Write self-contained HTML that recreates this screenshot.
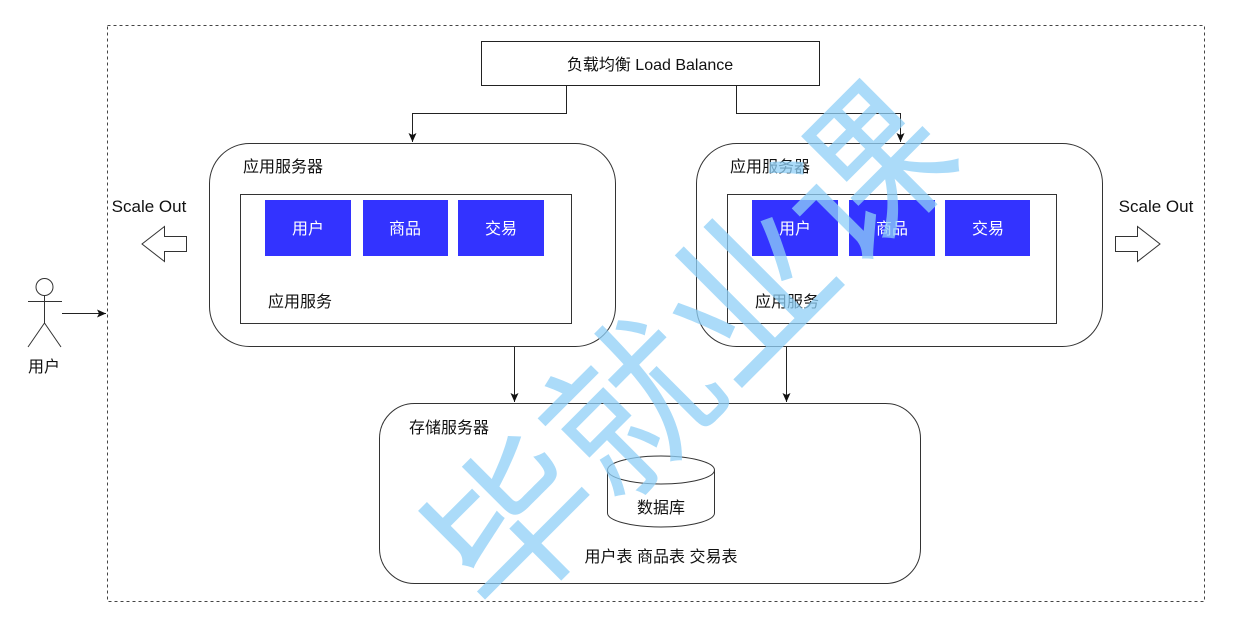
<!DOCTYPE html>
<html><head><meta charset="utf-8"><style>
html,body{margin:0;padding:0;background:#fff;width:1234px;height:624px;overflow:hidden}
text{font-family:"Liberation Sans","Noto Sans CJK SC",sans-serif;font-size:16px;fill:#111}
.w{fill:#fff}
</style></head><body>
<svg width="1234" height="624" viewBox="0 0 1234 624" xmlns="http://www.w3.org/2000/svg">
<defs><marker id="a" markerWidth="10" markerHeight="10" refX="9" refY="5" orient="auto" markerUnits="userSpaceOnUse"><path d="M0,1 L9,5 L0,9 L2,5 Z" fill="#111"/></marker></defs>
<rect x="107.5" y="25.5" width="1097" height="576" fill="none" stroke="#444" stroke-dasharray="3,3"/>
<rect x="481.5" y="41.5" width="338" height="44" fill="#fff" stroke="#222"/>
<text x="650" y="70" text-anchor="middle">负载均衡 Load Balance</text>
<path d="M566.5,86 V113.5 H412.5 V142" fill="none" stroke="#222" marker-end="url(#a)"/>
<path d="M736.5,86 V113.5 H900.5 V142" fill="none" stroke="#222" marker-end="url(#a)"/>
<rect x="209.5" y="143.5" width="406" height="203" rx="40" fill="#fff" stroke="#333"/>
<text x="243" y="172">应用服务器</text>
<rect x="240.5" y="194.5" width="331" height="129" fill="#fff" stroke="#333"/>
<rect x="265" y="200" width="86" height="56" fill="#3333ff"/>
<rect x="363" y="200" width="85" height="56" fill="#3333ff"/>
<rect x="458" y="200" width="86" height="56" fill="#3333ff"/>
<text class="w" x="308" y="234" text-anchor="middle">用户</text>
<text class="w" x="405" y="234" text-anchor="middle">商品</text>
<text class="w" x="501" y="234" text-anchor="middle">交易</text>
<text x="268" y="307">应用服务</text>
<rect x="696.5" y="143.5" width="406" height="203" rx="40" fill="#fff" stroke="#333"/>
<text x="730" y="172">应用服务器</text>
<rect x="727.5" y="194.5" width="329" height="129" fill="#fff" stroke="#333"/>
<rect x="752" y="200" width="86" height="56" fill="#3333ff"/>
<rect x="849" y="200" width="86" height="56" fill="#3333ff"/>
<rect x="945" y="200" width="85" height="56" fill="#3333ff"/>
<text class="w" x="795" y="234" text-anchor="middle">用户</text>
<text class="w" x="892" y="234" text-anchor="middle">商品</text>
<text class="w" x="988" y="234" text-anchor="middle">交易</text>
<text x="755" y="307">应用服务</text>
<path d="M514.5,347 V402" stroke="#222" marker-end="url(#a)"/>
<path d="M786.5,347 V402" stroke="#222" marker-end="url(#a)"/>
<rect x="379.5" y="403.5" width="541" height="180" rx="35" fill="#fff" stroke="#333"/>
<text x="409" y="433">存储服务器</text>
<path d="M607.5,470 V513 A53.5,14 0 0 0 714.5,513 V470" fill="#fff" stroke="#333"/>
<ellipse cx="661" cy="470" rx="53.5" ry="14" fill="#fff" stroke="#333"/>
<text x="661" y="513" text-anchor="middle">数据库</text>
<text x="661" y="562" text-anchor="middle">用户表 商品表 交易表</text>
<text x="149" y="212" text-anchor="middle" style="font-size:17px">Scale Out</text>
<path d="M186.5,236.5 H164.5 V226.5 L142,244 L164.5,261.5 V251.5 H186.5 Z" fill="#fff" stroke="#333"/>
<text x="1156" y="212" text-anchor="middle" style="font-size:17px">Scale Out</text>
<path d="M1115.5,236.5 H1137.5 V226.5 L1160,244 L1137.5,261.5 V251.5 H1115.5 Z" fill="#fff" stroke="#333"/>
<circle cx="44.5" cy="287" r="8.5" fill="#fff" stroke="#333"/>
<path d="M28,301.5 H62 M44.5,295.5 V323 L28,347 M44.5,323 L61,347" fill="none" stroke="#333"/>
<text x="44" y="372" text-anchor="middle">用户</text>
<path d="M62,313.5 H106" stroke="#222" marker-end="url(#a)"/>
<g opacity="0.75"><text x="0" y="0" transform="translate(700,360) rotate(-45)" text-anchor="middle" dominant-baseline="middle" style="font-size:165px;fill:#8fd0f7;font-family:'Noto Sans CJK SC',sans-serif">毕就业课</text></g>
</svg>
</body></html>
